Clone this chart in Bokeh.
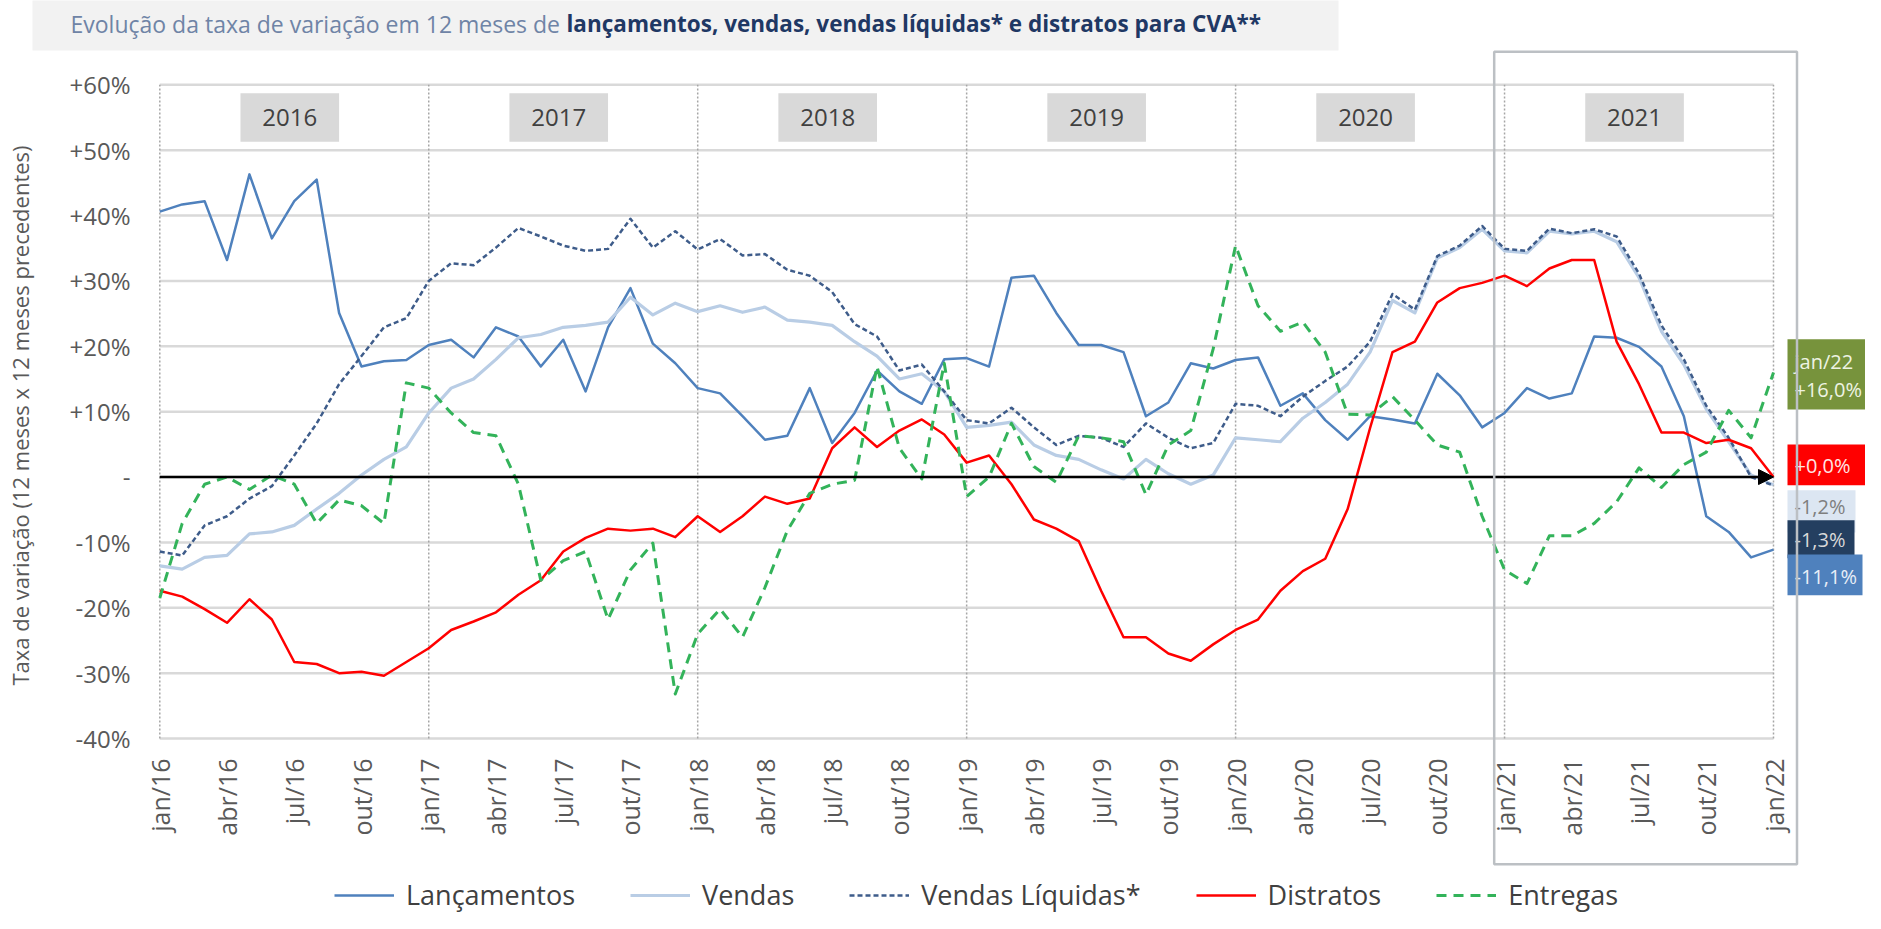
from math import pi
from bokeh.plotting import figure
from bokeh.models import (Range1d, Label, BoxAnnotation, Arrow, NormalHead,
                          Legend, LegendItem)
from bokeh.core.properties import value
from bokeh.embed import file_html
from bokeh.resources import INLINE

# ---------------- data ----------------
months = list(range(73))  # jan/16 .. jan/22

lancamentos = [40.6, 41.7, 42.2, 33.2, 46.3, 36.5, 42.2, 45.5, 25.1, 16.9, 17.7, 17.9,
               20.2, 21.0, 18.3, 22.9, 21.5, 16.9, 21.0, 13.1, 22.9, 28.9, 20.4, 17.4,
               13.6, 12.8, 9.3, 5.7, 6.3, 13.6, 5.2, 9.8, 16.3, 13.1, 11.2, 18.0,
               18.2, 16.9, 30.5, 30.8, 25.1, 20.2, 20.2, 19.1, 9.3, 11.4, 17.4, 16.6,
               17.9, 18.3, 10.9, 12.8, 8.7, 5.7, 9.3, 8.8, 8.2, 15.8, 12.5, 7.6,
               9.8, 13.6, 12.0, 12.8, 21.5, 21.3, 19.9, 16.9, 9.3, -6.0, -8.4, -12.3,
               -11.1]
vendas = [-13.6, -14.1, -12.3, -12.0, -8.7, -8.4, -7.4, -4.9, -2.5, 0.3, 2.7, 4.6,
          9.8, 13.6, 15.0, 18.0, 21.3, 21.8, 22.9, 23.2, 23.7, 27.5, 24.8, 26.6,
          25.3, 26.2, 25.2, 26.0, 24.0, 23.7, 23.2, 20.7, 18.5, 15.0, 15.8, 13.1,
          7.6, 7.9, 8.4, 4.9, 3.3, 2.7, 1.1, -0.3, 2.7, 0.5, -1.1, 0.3,
          6.0, 5.7, 5.4, 9.0, 11.4, 14.2, 19.1, 27.0, 25.1, 33.5, 35.1, 37.9,
          34.6, 34.3, 37.6, 37.2, 37.6, 36.0, 30.5, 22.3, 17.2, 10.4, 5.4, 0.3,
          -1.2]
vendas_liquidas = [-11.4, -12.0, -7.4, -6.0, -3.3, -1.4, 3.3, 8.2, 14.2, 18.5, 22.9, 24.3,
                   30.0, 32.7, 32.4, 35.1, 38.1, 36.8, 35.4, 34.6, 34.9, 39.5, 35.1, 37.6,
                   34.8, 36.4, 33.9, 34.1, 31.7, 30.8, 28.3, 23.4, 21.5, 16.3, 17.2, 13.1,
                   8.7, 8.2, 10.6, 7.6, 4.9, 6.3, 6.0, 4.6, 8.2, 6.0, 4.4, 5.2,
                   11.2, 10.9, 9.3, 12.3, 14.7, 16.9, 20.7, 28.0, 25.6, 33.8, 35.4, 38.4,
                   34.9, 34.6, 38.0, 37.3, 37.9, 36.8, 31.1, 23.2, 18.0, 10.9, 6.0, 0.0,
                   -1.3]
distratos = [-17.4, -18.3, -20.2, -22.3, -18.7, -21.8, -28.3, -28.6, -30.0, -29.8, -30.4, -28.3,
             -26.2, -23.4, -22.1, -20.7, -18.0, -15.8, -11.4, -9.3, -7.9, -8.2, -7.9, -9.2,
             -6.0, -8.4, -6.0, -3.0, -4.1, -3.3, 4.4, 7.6, 4.6, 7.1, 8.8, 6.5,
             2.2, 3.3, -1.1, -6.5, -7.9, -9.8, -17.4, -24.5, -24.5, -27.0, -28.1, -25.6,
             -23.4, -21.8, -17.4, -14.4, -12.5, -4.9, 7.5, 19.1, 20.7, 26.7, 28.9, 29.7,
             30.8, 29.2, 31.9, 33.2, 33.2, 20.7, 14.2, 6.8, 6.8, 5.2, 5.7, 4.4,
             0.0]
entregas = [-18.5, -7.1, -1.1, 0.0, -1.9, 0.3, -1.1, -7.1, -3.5, -4.4, -7.1, 14.4,
            13.6, 9.8, 6.8, 6.3, -1.1, -15.8, -12.8, -11.4, -21.8, -14.2, -10.1, -33.2,
            -24.0, -20.2, -24.5, -16.9, -8.2, -2.5, -1.1, -0.5, 16.9, 4.4, -0.3, 17.4,
            -3.0, 0.0, 8.2, 1.6, -0.8, 6.3, 6.0, 5.4, -2.7, 4.9, 7.1, 19.6,
            35.4, 26.2, 22.3, 23.7, 19.1, 9.6, 9.5, 12.3, 8.7, 4.9, 3.8, -6.0,
            -14.2, -16.3, -9.0, -9.0, -7.1, -3.8, 1.4, -1.6, 1.9, 3.8, 10.2, 6.0,
            16.0]

series_names = ["Lançamentos", "Vendas", "Vendas Líquidas*", "Distratos", "Entregas"]

x_tick_months = list(range(0, 73, 3))
x_tick_labels = ["jan/16", "abr/16", "jul/16", "out/16",
                 "jan/17", "abr/17", "jul/17", "out/17",
                 "jan/18", "abr/18", "jul/18", "out/18",
                 "jan/19", "abr/19", "jul/19", "out/19",
                 "jan/20", "abr/20", "jul/20", "out/20",
                 "jan/21", "abr/21", "jul/21", "out/21",
                 "jan/22"]
y_ticks = [-40, -30, -20, -10, 0, 10, 20, 30, 40, 50, 60]
y_tick_labels = ["-40%", "-30%", "-20%", "-10%", "-", "+10%", "+20%", "+30%",
                 "+40%", "+50%", "+60%"]

year_labels = ["2016", "2017", "2018", "2019", "2020", "2021"]
year_starts = [0, 12, 24, 36, 48, 60]
last_month = 72

end_label_header = "jan/22"
end_labels = ["+16,0%", "+0,0%", "-1,2%", "-1,3%", "-11,1%"]

title_normal = "Evolução da taxa de variação em 12 meses de "
title_bold = "lançamentos, vendas, vendas líquidas* e distratos para CVA**"
y_title = "Taxa de variação (12 meses x 12 meses precedentes)"

# ---------------- geometry (page pixels) ----------------
FONT = "Open Sans"
W, H = 1865, 913          # canvas; page offset 8px
X0, X1 = 167.3, 1781.0    # page x of jan/16 and jan/22
Y60, Ym40 = 92.3, 746.0   # page y of +60% and -40%
PPM = (X1 - X0) / 72.0
PPY = (Ym40 - Y60) / 100.0


def dx(X):
    return (X - X0) / PPM


def dy(Y):
    return 60.0 - (Y - Y60) / PPY


p = figure(width=W, height=H,
           x_range=Range1d(dx(8), dx(8 + W)), y_range=Range1d(dy(8 + H), dy(8)),
           output_backend="svg", toolbar_location=None,
           x_axis_location=None, y_axis_location=None, min_border=0)
p.outline_line_color = None
p.background_fill_color = "white"
p.border_fill_color = "white"
p.grid.visible = False

# grid lines
p.segment(x0=[0] * len(y_ticks), x1=[last_month] * len(y_ticks), y0=y_ticks, y1=y_ticks,
          line_color="#d9d9d9", line_width=2.5)
vx = year_starts + [last_month]
p.segment(x0=vx, x1=vx, y0=[y_ticks[0]] * len(vx), y1=[y_ticks[-1]] * len(vx),
          line_color="#a6a6a6", line_width=1.5, line_dash="2 2")

# year boxes
yc = [s + 5.8 for s in year_starts]
p.quad(left=[c - 2.2 for c in yc], right=[c + 2.2 for c in yc],
       bottom=dy(149.3), top=dy(100.7), fill_color="#d9d9d9", line_color=None)
p.text(x=yc, y=[dy(125)] * len(yc), text=year_labels, text_align="center",
       text_baseline="middle", text_font=value(FONT), text_font_size="24px",
       text_color="#404040")

# series
r_l = p.line(months, lancamentos, line_color="#4f81bd", line_width=2.5, line_join="round")
r_v = p.line(months, vendas, line_color="#b9cde5", line_width=3.2, line_join="round")
r_vl = p.line(months, vendas_liquidas, line_color="#3e5c8a", line_width=2.5,
              line_dash="5 3", line_join="round")
r_d = p.line(months, distratos, line_color="#ff0000", line_width=2.5, line_join="round")
r_e = p.line(months, entregas, line_color="#33b35a", line_width=3,
             line_dash="10 7", line_join="round")

# zero axis with arrow
p.add_layout(Arrow(x_start=0, y_start=0, x_end=last_month, y_end=0, line_width=2.5,
                   line_color="black",
                   end=NormalHead(size=15, fill_color="black", line_color="black")))

# axis tick labels
p.text(x=x_tick_months, y=[dy(766)] * len(x_tick_months), text=x_tick_labels,
       angle=pi / 2, text_align="right", text_baseline="middle",
       text_font=value(FONT), text_font_size="25px", text_color="#595959")
p.text(x=[dx(138)] * len(y_ticks), y=y_ticks, text=y_tick_labels,
       text_align="right", text_baseline="middle",
       text_font=value(FONT), text_font_size="24px", text_color="#595959")
p.text(x=[dx(27)], y=[dy(423)], text=[y_title], angle=pi / 2, text_align="center",
       text_baseline="middle", text_font=value(FONT), text_font_size="22px",
       text_color="#595959")

# end-value boxes
box_specs = [  # (top, bottom, right, fill)  page px
    (346.7, 417.0, 1873, "#77933c"),
    (452.0, 492.7, 1873, "#ff0000"),
    (497.7, 540.0, 1863, "#dce6f2"),
    (527.7, 565.7, 1862, "#243f60"),
    (562.0, 602.7, 1870, "#4f81bd"),
]
text_specs = [  # (label, y, color, box)
    (end_label_header, 369, "#eef3e3", 0),
    (end_labels[0], 397, "#eef3e3", 0),
    (end_labels[1], 473, "#ffe5e5", 1),
    (end_labels[2], 514, "#7f7f7f", 2),
    (end_labels[3], 547, "#d9d9d9", 3),
    (end_labels[4], 584, "#e8eef7", 4),
]
for bi, (top, bot, right, fill) in enumerate(box_specs):
    p.add_layout(BoxAnnotation(left=dx(1795), right=dx(right), top=dy(top), bottom=dy(bot),
                               fill_color=fill, fill_alpha=1, line_color=None))
    for txt, ty, tc, b in text_specs:
        if b == bi:
            p.add_layout(Label(x=dx(1802), y=dy(ty), text=txt, text_font=FONT,
                               text_font_size="20px", text_color=tc,
                               text_baseline="middle"))

# 2021 highlight frame
p.add_layout(BoxAnnotation(left=dx(1501.7), right=dx(1804.5), top=dy(59.3), bottom=dy(871.7),
                           fill_color=None, fill_alpha=0, line_color="#bcc0c4",
                           line_alpha=1, line_width=2.5))

# title
p.add_layout(BoxAnnotation(left=dx(40), right=dx(1346), top=dy(0), bottom=dy(58),
                           fill_color="#f2f2f2", fill_alpha=1, line_color=None))
p.add_layout(Label(x=dx(78), y=dy(31), text=title_normal, text_font=FONT,
                   text_font_size="23px", text_color="#6f84a6", text_baseline="middle"))
p.add_layout(Label(x=dx(574), y=dy(31), text=title_bold, text_font=FONT,
                   text_font_size="22.5px", text_font_style="bold", text_color="#1f3864",
                   text_baseline="middle"))

# legend
legend = Legend(items=[LegendItem(label=n, renderers=[r]) for n, r in
                       zip(series_names, [r_l, r_v, r_vl, r_d, r_e])],
                orientation="horizontal", location=(342 - 8, 0),
                label_text_font=FONT, label_text_font_size="27px",
                label_text_color="#404040", glyph_width=60, glyph_height=20,
                label_standoff=12, spacing=55, padding=0, margin=0,
                border_line_color=None, background_fill_alpha=0)
p.add_layout(legend)

open("out.html", "w").write(file_html(p, INLINE))
